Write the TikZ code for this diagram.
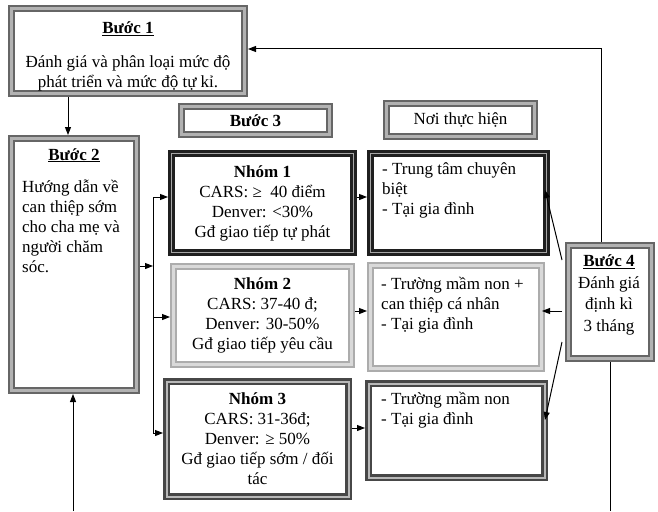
\documentclass[tikz,border=0pt]{standalone}
\usepackage{fontspec}
\setmainfont{Liberation Serif}
\usetikzlibrary{arrows.meta, positioning}

\begin{document}
\begin{tikzpicture}[
  x=1pt, y=-1pt,
  baseFrame/.style={rectangle, fill=white, inner sep=0pt, outer sep=3.5pt, line width=2pt, double distance=3pt, font=\fontsize{17}{20}\selectfont, align=center},
  midFrame/.style={baseFrame, draw=gray!80!black, double=gray!60},
  darkFrame/.style={baseFrame, draw=black!88, double=gray!70, line width=3pt, double distance=1.2pt},
  darkGrayFrame/.style={baseFrame, draw=black!72, double=gray!55, line width=2.5pt, double distance=2pt},
  lightFrame/.style={baseFrame, draw=gray!65, double=gray!30},
  boxText/.style={inner sep=0pt, font=\fontsize{17}{20}\selectfont, align=left},
  flowArrow/.style={draw, line width=1pt, -{Triangle[length=8pt, width=6pt]}},
  flowLine/.style={draw, line width=1pt}
]
\useasboundingbox (0,0) rectangle (658,511);

% frames
\node[midFrame, minimum width=233, minimum height=85] (b1) at (128,51) {};
\node[midFrame, minimum width=125, minimum height=252] (b2) at (74,264.5) {};
\node[midFrame, minimum width=148, minimum height=28] (hdrStep) at (255.5,120.5) {\textbf{Bước 3}};
\node[midFrame, minimum width=148, minimum height=33] (hdrPlace) at (460.5,120) {Nơi thực hiện};
\node[darkFrame, minimum width=182, minimum height=99] (g1) at (262.5,203) {\textbf{Nhóm 1}\\CARS: ≥\ \ 40 điểm\\Denver: <30\%\\Gđ giao tiếp tự phát};
\node[lightFrame, minimum width=178, minimum height=98] (g2) at (262.5,315.5) {\textbf{Nhóm 2}\\CARS: 37-40 đ;\\Denver: 30-50\%\\Gđ giao tiếp yêu cầu};
\node[darkGrayFrame, minimum width=182, minimum height=115] (g3) at (257.5,439) {\textbf{Nhóm 3}\\CARS: 31-36đ;\\Denver: ≥ 50\%\\Gđ giao tiếp sớm / đối\\tác};
\node[darkFrame, minimum width=176, minimum height=99] (p1) at (458.5,203) {};
\node[lightFrame, minimum width=171, minimum height=103] (p2) at (456,317) {};
\node[darkGrayFrame, minimum width=176, minimum height=94] (p3) at (456.5,430.5) {};
\node[midFrame, minimum width=83, minimum height=113] (b4) at (610,302) {};

% texts inside frames
\node[boxText, align=center] (b1Text) at (128,56) {\underline{\textbf{Bước 1}}\\[14pt]Đánh giá và phân loại mức độ\\phát triển và mức độ tự kỉ.};
\node[boxText, anchor=base] (b2Title) at (74,160) {\underline{\textbf{Bước 2}}};
\node[boxText, anchor=north west] (b2Text) at (22,180) {Hướng dẫn về\\can thiệp sớm\\cho cha mẹ và\\người chăm\\sóc.};
\node[boxText, anchor=north west] (p1Text) at (382,162) {- Trung tâm chuyên\\biệt\\- Tại gia đình};
\node[boxText, anchor=north west] (p2Text) at (381,277) {- Trường mầm non +\\can thiệp cá nhân\\- Tại gia đình};
\node[boxText, anchor=north west] (p3Text) at (381,392) {- Trường mầm non\\- Tại gia đình};
\node[boxText, align=center, font=\fontsize{17}{21.5}\selectfont] (b4Text) at (609,295) {\underline{\textbf{Bước 4}}\\Đánh giá\\định kì\\3 tháng};

% connectors
\coordinate (busTop) at (153,197);
\coordinate (busMid) at (153,317);
\coordinate (busBot) at (153,433);
\coordinate (loopTop) at (601,49);
\coordinate (loopLeft) at (73,511);
\coordinate (loopRight) at (610,511);

\draw[flowArrow] ([xshift=-6pt]b2.north |- b1.south) -- ([xshift=-6pt]b2.north);
\draw[flowArrow] (b2.east |- 153,266) -- (153,266);
\draw[flowLine] (busTop) -- (busBot);
\draw[flowArrow] (busTop) -- (busTop -| g1.west);
\draw[flowArrow] (busMid) -- (busMid -| g2.west);
\draw[flowArrow] (busBot) -- (busBot -| g3.west);

\draw[flowArrow] ([yshift=6pt]g1.east) -- ([yshift=6pt]g1.east -| p1.west);
\draw[flowArrow] ([yshift=4.5pt]g2.east) -- ([yshift=4.5pt]g2.east -| p2.west);
\draw[flowArrow] ([yshift=11pt]g3.east) -- ([yshift=11pt]g3.east -| p3.west);

\draw[flowArrow] ([xshift=-3pt, yshift=42pt]b4.west) -- ([xshift=-5pt, yshift=13pt]p1.east);
\draw[flowArrow] ([xshift=-3pt, yshift=-9pt]b4.west) -- ([xshift=-3pt, yshift=-9pt]b4.west -| p2.east);
\draw[flowArrow] ([xshift=-3pt, yshift=-40pt]b4.west) -- ([xshift=-3pt, yshift=10.5pt]p3.east);

\draw[flowArrow] (b4.north -| loopTop) -- (loopTop) -- (loopTop -| b1.east);
\draw[flowArrow] (loopLeft) -- (loopLeft |- b2.south);
\draw[flowLine] (b4.south -| loopRight) -- (loopRight);
\end{tikzpicture}
\end{document}
